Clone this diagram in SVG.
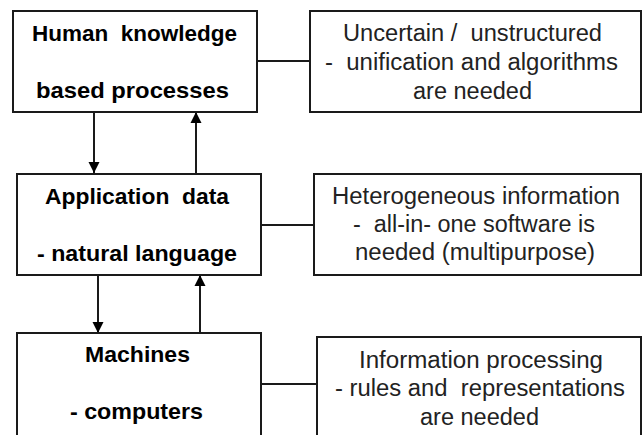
<svg xmlns="http://www.w3.org/2000/svg" width="643" height="435" viewBox="0 0 643 435">
<style>
.box{fill:#fff;stroke:#1a1a1a;stroke-width:2}
.b{font-family:"Liberation Sans",Arial,sans-serif;font-weight:bold;font-size:22px;fill:#000}
.r{font-family:"Liberation Sans",Arial,sans-serif;font-size:23px;fill:#222}
.ln{stroke:#1a1a1a;stroke-width:2;fill:none}
</style>
<defs>
<marker id="ah" markerUnits="userSpaceOnUse" markerWidth="12" markerHeight="12" viewBox="0 0 12 12" refX="11" refY="6" orient="auto">
<path d="M0,0.5 L11,6 L0,11.5 Z" fill="#000"/>
</marker>
</defs>
<rect width="643" height="435" fill="#fff"/>
<g id="connectors">
<line class="ln" x1="257" y1="61" x2="310" y2="61"/>
<line class="ln" x1="261" y1="225" x2="314" y2="225"/>
<line class="ln" x1="261" y1="384" x2="317" y2="384"/>
<line class="ln" x1="94" y1="112" x2="94" y2="173" marker-end="url(#ah)"/>
<line class="ln" x1="196" y1="174" x2="196" y2="112" marker-end="url(#ah)"/>
<line class="ln" x1="98" y1="275" x2="98" y2="333" marker-end="url(#ah)"/>
<line class="ln" x1="200" y1="333" x2="200" y2="275" marker-end="url(#ah)"/>
</g>
<g id="human">
<rect class="box" x="13" y="11" width="244" height="101"/>
<text class="b" x="32" y="41" textLength="205" lengthAdjust="spacingAndGlyphs" xml:space="preserve">Human  knowledge</text>
<text class="b" x="36" y="98" textLength="193" lengthAdjust="spacingAndGlyphs">based processes</text>
</g>
<g id="uncertain">
<rect class="box" x="310" y="11" width="331" height="101"/>
<text class="r" x="343" y="41" textLength="259" lengthAdjust="spacingAndGlyphs" xml:space="preserve">Uncertain /  unstructured</text>
<text class="r" x="325" y="70" textLength="293" lengthAdjust="spacingAndGlyphs" xml:space="preserve">-  unification and algorithms</text>
<text class="r" x="413" y="99" textLength="119" lengthAdjust="spacingAndGlyphs">are needed</text>
</g>
<g id="application">
<rect class="box" x="17" y="174" width="244" height="101"/>
<text class="b" x="45" y="204" textLength="184" lengthAdjust="spacingAndGlyphs" xml:space="preserve">Application  data</text>
<text class="b" x="37" y="261" textLength="200" lengthAdjust="spacingAndGlyphs">- natural language</text>
</g>
<g id="heterogeneous">
<rect class="box" x="314" y="174" width="327" height="101"/>
<text class="r" x="332" y="204" textLength="288" lengthAdjust="spacingAndGlyphs">Heterogeneous information</text>
<text class="r" x="353" y="232" textLength="242" lengthAdjust="spacingAndGlyphs" xml:space="preserve">-  all-in- one software is</text>
<text class="r" x="355" y="260" textLength="240" lengthAdjust="spacingAndGlyphs">needed (multipurpose)</text>
</g>
<g id="machines">
<rect class="box" x="17" y="333" width="244" height="120"/>
<text class="b" x="85" y="362" textLength="105" lengthAdjust="spacingAndGlyphs">Machines</text>
<text class="b" x="70" y="419" textLength="133" lengthAdjust="spacingAndGlyphs">- computers</text>
</g>
<g id="processing">
<rect class="box" x="317" y="337" width="324" height="120"/>
<text class="r" x="359" y="368" textLength="244" lengthAdjust="spacingAndGlyphs">Information processing</text>
<text class="r" x="335" y="396" textLength="290" lengthAdjust="spacingAndGlyphs" xml:space="preserve">- rules and  representations</text>
<text class="r" x="420" y="425" textLength="119" lengthAdjust="spacingAndGlyphs">are needed</text>
</g>
</svg>
